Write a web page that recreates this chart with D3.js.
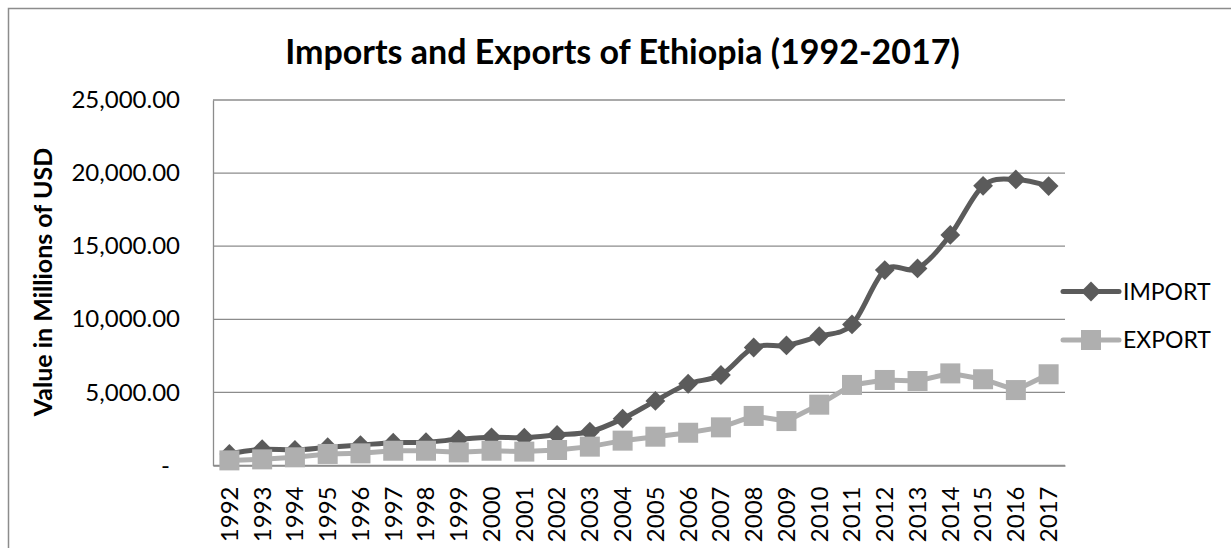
<!DOCTYPE html>
<html>
<head>
<meta charset="utf-8">
<script src="https://cdn.jsdelivr.net/npm/d3@7"></script>
<style>
  body { margin: 0; background: #fff; }
  text { font-family: Lato, "Open Sans", sans-serif; }
</style>
</head>
<body>
<div id="chart"></div>
<script>
// Data (millions of USD)
const years = ["1992","1993","1994","1995","1996","1997","1998","1999","2000","2001","2002","2003","2004",
               "2005","2006","2007","2008","2009","2010","2011","2012","2013","2014","2015","2016","2017"];
const imports = [790, 1110, 1060, 1250, 1400, 1560, 1590, 1790, 1930, 1900, 2090, 2310, 3200,
                 4420, 5590, 6190, 8070, 8210, 8840, 9650, 13370, 13480, 15770, 19130, 19570, 19110];
const exports = [350, 420, 560, 790, 830, 1010, 1010, 900, 1010, 950, 1060, 1290, 1700,
                 1970, 2240, 2610, 3390, 3040, 4160, 5510, 5850, 5780, 6300, 5900, 5160, 6240];
const yTicks = [0, 5000, 10000, 15000, 20000, 25000];
const yTickLabels = ["-", "5,000.00", "10,000.00", "15,000.00", "20,000.00", "25,000.00"];

const width = 1231, height = 548;
const plot = {left: 213, right: 1065, top: 100, bottom: 465.5};
const gridColor = "#8c8c8c";
const importColor = "#5b5b5b", exportColor = "#afafaf";

const svg = d3.select("#chart")
  .append("svg")
  .attr("width", width)
  .attr("height", height);

// outer chart frame (runs off the bottom/right of the picture)
svg.append("rect")
  .attr("x", 8.5).attr("y", 8.5)
  .attr("width", 1400).attr("height", 800)
  .attr("fill", "none")
  .attr("stroke", gridColor)
  .attr("stroke-width", 1.5);

const x = d3.scaleBand()
  .domain(years)
  .range([plot.left, plot.right])
  .padding(0);

const y = d3.scaleLinear()
  .domain([0, 25000])
  .range([plot.bottom, plot.top]);

const cx = d => x(d) + x.bandwidth() / 2;

// horizontal gridlines
svg.append("g")
  .selectAll("line")
  .data(yTicks)
  .join("line")
  .attr("x1", plot.left).attr("x2", plot.right)
  .attr("y1", d => y(d)).attr("y2", d => y(d))
  .attr("stroke", gridColor)
  .attr("stroke-width", 1.3);

// y axis
const yAxis = svg.append("g")
  .attr("transform", `translate(${plot.left},0)`)
  .call(d3.axisLeft(y)
    .tickValues(yTicks)
    .tickFormat((d, i) => yTickLabels[i])
    .tickSize(0)
    .tickPadding(33));
yAxis.select(".domain").attr("stroke", gridColor).attr("stroke-width", 1.3);
yAxis.selectAll("text")
  .style("font-family", "Lato, sans-serif")
  .style("font-size", "24px")
  .attr("fill", "#000");
yAxis.selectAll(".tick").filter(d => d === 0).select("text").attr("dx", -10);

// x axis
const xAxis = svg.append("g")
  .attr("transform", `translate(0,${plot.bottom})`)
  .call(d3.axisBottom(x).tickSize(0).tickSizeOuter(0));
xAxis.select(".domain").attr("stroke", gridColor).attr("stroke-width", 1.3);
xAxis.selectAll("text")
  .style("font-family", "Lato, sans-serif")
  .style("font-size", "24px")
  .attr("fill", "#000")
  .attr("transform", "translate(0,21) rotate(-90)")
  .attr("x", 0).attr("y", 0)
  .attr("dy", "0.35em")
  .style("text-anchor", "end");

// IMPORT series (smoothed line + diamonds)
const importLine = d3.line()
  .x((d, i) => cx(years[i]))
  .y(d => y(d))
  .curve(d3.curveCatmullRom.alpha(0));

svg.append("path")
  .datum(imports)
  .attr("d", importLine)
  .attr("fill", "none")
  .attr("stroke", importColor)
  .attr("stroke-width", 5);

svg.append("g")
  .selectAll("rect")
  .data(imports)
  .join("rect")
  .attr("x", -7).attr("y", -7)
  .attr("width", 14).attr("height", 14)
  .attr("transform", (d, i) => `translate(${cx(years[i])},${y(d)}) rotate(45)`)
  .attr("fill", importColor);

// EXPORT series (line + squares)
const exportLine = d3.line()
  .x((d, i) => cx(years[i]))
  .y(d => y(d));

svg.append("path")
  .datum(exports)
  .attr("d", exportLine)
  .attr("fill", "none")
  .attr("stroke", exportColor)
  .attr("stroke-width", 5);

svg.append("g")
  .selectAll("rect")
  .data(exports)
  .join("rect")
  .attr("x", (d, i) => cx(years[i]) - 10)
  .attr("y", d => y(d) - 10)
  .attr("width", 20).attr("height", 20)
  .attr("fill", exportColor);

// legend
const legend = svg.append("g").attr("transform", "translate(1063,0)");
const series = [
  {name: "IMPORT", color: importColor, yPos: 291.5, marker: "diamond"},
  {name: "EXPORT", color: exportColor, yPos: 340, marker: "square"}
];
series.forEach(s => {
  legend.append("line")
    .attr("x1", 0).attr("x2", 56)
    .attr("y1", s.yPos).attr("y2", s.yPos)
    .attr("stroke", s.color)
    .attr("stroke-width", 5)
    .attr("stroke-linecap", "round");
  if (s.marker === "diamond") {
    legend.append("rect")
      .attr("x", -7).attr("y", -7).attr("width", 14).attr("height", 14)
      .attr("transform", `translate(28,${s.yPos}) rotate(45)`)
      .attr("fill", s.color);
  } else {
    legend.append("rect")
      .attr("x", 18).attr("y", s.yPos - 10).attr("width", 20).attr("height", 20)
      .attr("fill", s.color);
  }
  legend.append("text")
    .attr("x", 60)
    .attr("y", s.yPos)
    .attr("dy", "0.35em")
    .style("font-size", "23px")
    .text(s.name);
});

// title
svg.append("text")
  .attr("x", 622.5)
  .attr("y", 64)
  .style("text-anchor", "middle")
  .style("font-size", "34px")
  .style("font-weight", "bold")
  .text("Imports and Exports of Ethiopia (1992-2017)");

// y axis label
svg.append("text")
  .attr("transform", "translate(52,282) rotate(-90)")
  .style("text-anchor", "middle")
  .style("font-size", "25px")
  .style("font-weight", "bold")
  .text("Value in Millions of USD");
</script>
</body>
</html>
